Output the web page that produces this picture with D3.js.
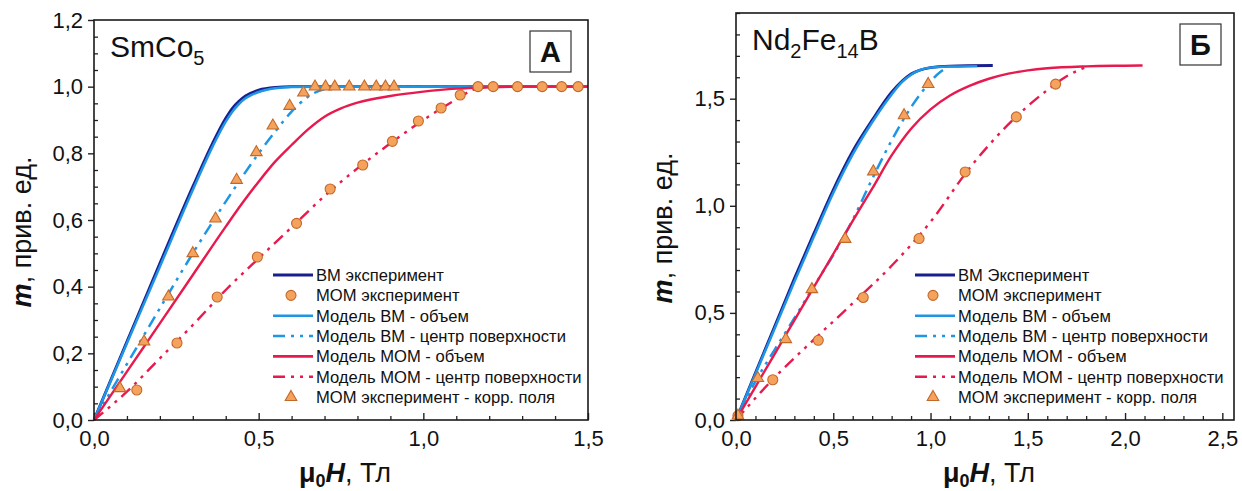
<!DOCTYPE html>
<html>
<head>
<meta charset="utf-8">
<script src="https://cdn.jsdelivr.net/npm/d3@7"></script>
<style>
  html, body { margin: 0; padding: 0; background: #fff; }
  svg { display: block; font-family: "Liberation Sans", Arial, sans-serif; }
</style>
</head>
<body>
<svg id="chart" width="1242" height="491"></svg>
<script>
// ---------- Panel A: SmCo5 ----------
const smcoBmExp = [[0,0],[0.1,0.235],[0.2,0.47],[0.3,0.70],[0.36,0.83],[0.4,0.905],[0.42,0.935],[0.44,0.956],[0.46,0.972],[0.5,0.99],[0.55,0.998],[0.6,1.0],[0.9,1.0],[1.5,1.0]];
const smcoBmVol = [[0,0],[0.1,0.23],[0.2,0.46],[0.3,0.69],[0.36,0.82],[0.4,0.895],[0.42,0.925],[0.44,0.948],[0.46,0.965],[0.48,0.976],[0.5,0.984],[0.55,0.995],[0.6,0.999],[0.7,1.0],[1.5,1.0]];
const smcoBmSurf = [[0,0],[0.1,0.168],[0.2,0.335],[0.3,0.5],[0.4,0.655],[0.5,0.80],[0.55,0.865],[0.6,0.925],[0.65,0.97],[0.7,0.993],[0.75,1.0],[1.5,1.0]];
const smcoMomVol = [[0,0],[0.1,0.145],[0.2,0.29],[0.3,0.435],[0.4,0.58],[0.45,0.65],[0.5,0.715],[0.55,0.775],[0.6,0.825],[0.65,0.872],[0.7,0.91],[0.75,0.935],[0.8,0.952],[0.9,0.972],[1.0,0.985],[1.1,0.994],[1.2,0.998],[1.3,1.0],[1.5,1.0]];
const smcoMomSurf = [[0,0],[0.1,0.085],[0.2,0.185],[0.3,0.285],[0.4,0.39],[0.5,0.485],[0.6,0.578],[0.7,0.672],[0.8,0.755],[0.9,0.83],[1.0,0.9],[1.1,0.962],[1.15,0.99],[1.2,1.0]];
const smcoMomExp = [[0.13,0.09],[0.252,0.231],[0.374,0.369],[0.496,0.489],[0.615,0.59],[0.717,0.693],[0.816,0.765],[0.906,0.836],[0.985,0.897],[1.054,0.936],[1.112,0.975],[1.166,1.0],[1.212,1.0],[1.286,1.0],[1.361,1.0],[1.42,1.0],[1.47,1.0]];
const smcoMomCorr = [[0.079,0.095],[0.152,0.235],[0.226,0.37],[0.30,0.50],[0.369,0.604],[0.433,0.72],[0.493,0.803],[0.543,0.883],[0.594,0.942],[0.636,0.982],[0.671,1.0],[0.703,1.0],[0.731,1.0],[0.775,1.0],[0.821,1.0],[0.857,1.0],[0.885,1.0],[0.911,1.0]];

// ---------- Panel Б: Nd2Fe14B ----------
const ndBmExp = [[0,0],[0.1,0.22],[0.2,0.44],[0.3,0.66],[0.4,0.87],[0.5,1.075],[0.6,1.255],[0.7,1.40],[0.8,1.53],[0.9,1.615],[1.0,1.645],[1.1,1.652],[1.32,1.655]];
const ndBmVol = [[0,0],[0.1,0.215],[0.2,0.43],[0.3,0.645],[0.4,0.855],[0.5,1.06],[0.6,1.24],[0.7,1.39],[0.8,1.52],[0.85,1.575],[0.9,1.612],[0.95,1.635],[1.0,1.645],[1.1,1.65],[1.24,1.652]];
const ndBmSurf = [[0,0],[0.1,0.18],[0.2,0.33],[0.3,0.475],[0.4,0.625],[0.5,0.77],[0.6,0.935],[0.7,1.125],[0.8,1.305],[0.9,1.46],[1.0,1.58],[1.05,1.625],[1.09,1.645]];
const ndMomVol = [[0,0],[0.1,0.155],[0.2,0.31],[0.3,0.465],[0.4,0.62],[0.5,0.775],[0.6,0.93],[0.7,1.08],[0.8,1.235],[0.9,1.36],[1.0,1.45],[1.1,1.515],[1.2,1.56],[1.3,1.593],[1.4,1.617],[1.5,1.632],[1.6,1.642],[1.8,1.651],[2.0,1.654],[2.09,1.655]];
const ndMomSurf = [[0,0],[0.2,0.2],[0.4,0.375],[0.6,0.545],[0.8,0.72],[1.0,0.925],[1.2,1.175],[1.4,1.38],[1.6,1.54],[1.7,1.605],[1.8,1.648]];
const ndMomExp = [[0.01,0.02],[0.189,0.188],[0.423,0.372],[0.654,0.572],[0.941,0.847],[1.178,1.158],[1.441,1.415],[1.643,1.568]];
const ndMomCorr = [[0.01,0.02],[0.112,0.195],[0.256,0.377],[0.39,0.61],[0.561,0.845],[0.706,1.16],[0.864,1.422],[0.988,1.568]];

// legend texts
const legendA = ["ВМ эксперимент","МОМ эксперимент","Модель ВМ - объем","Модель ВМ - центр поверхности","Модель МОМ - объем","Модель МОМ - центр поверхности","МОМ эксперимент - корр. поля"];
const legendB = ["ВМ Эксперимент","МОМ эксперимент","Модель ВМ - объем","Модель ВМ - центр поверхности","Модель МОМ - объем","Модель МОМ - центр поверхности","МОМ эксперимент - корр. поля"];

// axis tick values
const xTicksA = [0, 0.5, 1.0, 1.5];
const yTicksA = [0, 0.2, 0.4, 0.6, 0.8, 1.0, 1.2];
const xTicksB = [0, 0.5, 1.0, 1.5, 2.0, 2.5];
const yTicksB = [0, 0.5, 1.0, 1.5];

const NAVY = "#1a1f8e", LBLUE = "#1e96e4", RED = "#e8194d";
const MFILL = "#f5a25c", MSTROKE = "#c2692a";
const DASH = "12,6,3,6,3,6";

const svg = d3.select("#chart");
svg.append("rect").attr("width", 1242).attr("height", 491).attr("fill", "#fff");

const fmt = d => d3.format(".1f")(d).replace(".", ",");

function drawPanel(p) {
  const x = d3.scaleLinear().domain(p.xDomain).range([p.left, p.right]);
  const y = d3.scaleLinear().domain(p.yDomain).range([p.bottom, p.top]);
  const g = svg.append("g");

  // minor ticks (inward)
  const xMinor = d3.range(0, p.xDomain[1] + 1e-9, 0.1).filter(v => !p.xTicks.some(t => Math.abs(t - v) < 1e-6));
  const yMinor = d3.range(0, p.yDomain[1] + 1e-9, p.yMinorStep).filter(v => !p.yTicks.some(t => Math.abs(t - v) < 1e-6));
  g.append("g").attr("transform", `translate(0,${p.bottom})`)
    .call(d3.axisBottom(x).tickValues(xMinor).tickSize(-4).tickFormat(""))
    .call(a => a.select(".domain").remove())
    .selectAll("line").attr("stroke", "#222").attr("stroke-width", 1.3);
  g.append("g").attr("transform", `translate(${p.left},0)`)
    .call(d3.axisLeft(y).tickValues(yMinor).tickSize(-4).tickFormat(""))
    .call(a => a.select(".domain").remove())
    .selectAll("line").attr("stroke", "#222").attr("stroke-width", 1.3);

  // major ticks + labels
  const xa = g.append("g").attr("transform", `translate(0,${p.bottom})`)
    .call(d3.axisBottom(x).tickValues(p.xTicks).tickSize(-7).tickPadding(10).tickFormat(fmt));
  xa.select(".domain").remove();
  xa.selectAll("line").attr("stroke", "#222").attr("stroke-width", 1.4);
  xa.selectAll("text").attr("font-size", 22).attr("fill", "#111").attr("font-family", "Liberation Sans, Arial, sans-serif");

  const ya = g.append("g").attr("transform", `translate(${p.left},0)`)
    .call(d3.axisLeft(y).tickValues(p.yTicks).tickSize(6).tickPadding(5).tickFormat(fmt));
  ya.select(".domain").remove();
  ya.selectAll("line").attr("stroke", "#222").attr("stroke-width", 1.4);
  ya.selectAll("text").attr("font-size", 22).attr("fill", "#111").attr("font-family", "Liberation Sans, Arial, sans-serif");

  // curves
  const line = d3.line().x(d => x(d[0])).y(d => y(d[1])).curve(d3.curveMonotoneX);
  const plot = g.append("g");
  const curves = [
    { data: p.bmExp, color: NAVY, width: 2.8, dash: null },
    { data: p.bmVol, color: LBLUE, width: 2.5, dash: null },
    { data: p.bmSurf, color: LBLUE, width: 2.5, dash: DASH },
    { data: p.momVol, color: RED, width: 2.4, dash: null },
    { data: p.momSurf, color: RED, width: 2.4, dash: DASH }
  ];
  curves.forEach(c => {
    plot.append("path").datum(c.data)
      .attr("d", line).attr("fill", "none")
      .attr("stroke", c.color).attr("stroke-width", c.width)
      .attr("stroke-dasharray", c.dash);
  });

  // markers
  plot.selectAll(".circ").data(p.momExp).join("circle")
    .attr("cx", d => x(d[0])).attr("cy", d => y(d[1])).attr("r", 5)
    .attr("fill", MFILL).attr("stroke", MSTROKE).attr("stroke-width", 1.1);
  const tri = d3.symbol(d3.symbolTriangle).size(58);
  plot.selectAll(".tri").data(p.momCorr).join("path")
    .attr("d", tri).attr("transform", d => `translate(${x(d[0])},${y(d[1])})`)
    .attr("fill", MFILL).attr("stroke", MSTROKE).attr("stroke-width", 1.1);

  // frame
  g.append("rect").attr("x", p.left).attr("y", p.top)
    .attr("width", p.right - p.left).attr("height", p.bottom - p.top)
    .attr("fill", "none").attr("stroke", "#1a1a1a").attr("stroke-width", 1.6);

  // material name
  const t = g.append("text").attr("x", p.nameX).attr("y", p.nameY)
    .attr("font-size", 30).attr("fill", "#111");
  p.name.forEach(part => {
    t.append("tspan").text(part.t)
      .attr("font-size", part.sub ? 20 : 30)
      .attr("dy", part.dy || 0);
  });

  // panel letter in a box
  g.append("rect").attr("x", p.boxX).attr("y", p.boxY).attr("width", 41).attr("height", 41)
    .attr("fill", "#fff").attr("stroke", "#333").attr("stroke-width", 1.2);
  g.append("text").attr("x", p.boxX + 20.5).attr("y", p.boxY + 31)
    .attr("text-anchor", "middle").attr("font-size", 29).attr("font-weight", "bold")
    .attr("fill", "#111").text(p.letter);

  // legend
  const lg = g.append("g");
  const rowY = i => 275 + i * 20.35;
  const sym = [
    { kind: "line", color: NAVY, width: 3.2 },
    { kind: "circle" },
    { kind: "line", color: LBLUE, width: 2.6 },
    { kind: "line", color: LBLUE, width: 2.6, dash: DASH },
    { kind: "line", color: RED, width: 2.6 },
    { kind: "line", color: RED, width: 2.6, dash: DASH },
    { kind: "tri" }
  ];
  p.legend.forEach((label, i) => {
    const s = sym[i], yy = rowY(i);
    const x0 = p.legX, x1 = p.legX + 40, xm = p.legX + 18;
    if (s.kind === "line") {
      lg.append("line").attr("x1", x0).attr("x2", x1).attr("y1", yy).attr("y2", yy)
        .attr("stroke", s.color).attr("stroke-width", s.width)
        .attr("stroke-dasharray", s.dash || null);
    } else if (s.kind === "circle") {
      lg.append("circle").attr("cx", xm).attr("cy", yy).attr("r", 5)
        .attr("fill", MFILL).attr("stroke", MSTROKE).attr("stroke-width", 1.1);
    } else {
      lg.append("path").attr("d", tri).attr("transform", `translate(${xm},${yy})`)
        .attr("fill", MFILL).attr("stroke", MSTROKE).attr("stroke-width", 1.1);
    }
    lg.append("text").attr("x", x1 + 3).attr("y", yy + 6)
      .attr("font-size", 16.6).attr("fill", "#111").text(label);
  });

  // x-axis title: μ0H, Тл
  const xt = g.append("text").attr("x", (p.left + p.right) / 2 + 4).attr("y", 482)
    .attr("text-anchor", "middle").attr("font-size", 27).attr("fill", "#111");
  xt.append("tspan").text("μ").attr("font-weight", "bold");
  xt.append("tspan").text("0").attr("font-size", 18).attr("font-weight", "bold").attr("dy", 5);
  xt.append("tspan").text("H").attr("font-weight", "bold").attr("font-style", "italic").attr("dy", -5);
  xt.append("tspan").text(", Тл");

  // y-axis title: m, прив. ед.
  const yt = g.append("text")
    .attr("transform", `translate(${p.yTitleX},${p.yTitleY}) rotate(-90)`)
    .attr("text-anchor", "middle").attr("font-size", 27).attr("fill", "#111");
  yt.append("tspan").text("m").attr("font-weight", "bold").attr("font-style", "italic");
  yt.append("tspan").text(", прив. ед.");
}

drawPanel({
  left: 94, right: 588, top: 20, bottom: 420,
  xDomain: [0, 1.5], yDomain: [0, 1.2],
  xTicks: xTicksA, yTicks: yTicksA, yMinorStep: 0.05,
  bmExp: smcoBmExp, bmVol: smcoBmVol, bmSurf: smcoBmSurf,
  momVol: smcoMomVol, momSurf: smcoMomSurf, momExp: smcoMomExp, momCorr: smcoMomCorr,
  name: [{ t: "SmCo" }, { t: "5", sub: true, dy: 8 }], nameX: 110, nameY: 57,
  letter: "А", boxX: 530, boxY: 31,
  legend: legendA, legX: 273,
  yTitleX: 31, yTitleY: 232
});

drawPanel({
  left: 736, right: 1234, top: 13, bottom: 420,
  xDomain: [0, 2.56], yDomain: [0, 1.9],
  xTicks: xTicksB, yTicks: yTicksB, yMinorStep: 0.1,
  bmExp: ndBmExp, bmVol: ndBmVol, bmSurf: ndBmSurf,
  momVol: ndMomVol, momSurf: ndMomSurf, momExp: ndMomExp, momCorr: ndMomCorr,
  name: [{ t: "Nd" }, { t: "2", sub: true, dy: 8 }, { t: "Fe", dy: -8 }, { t: "14", sub: true, dy: 8 }, { t: "B", dy: -8 }],
  nameX: 752, nameY: 50,
  letter: "Б", boxX: 1180, boxY: 24,
  legend: legendB, legX: 915,
  yTitleX: 672, yTitleY: 228
});
</script>
</body>
</html>
